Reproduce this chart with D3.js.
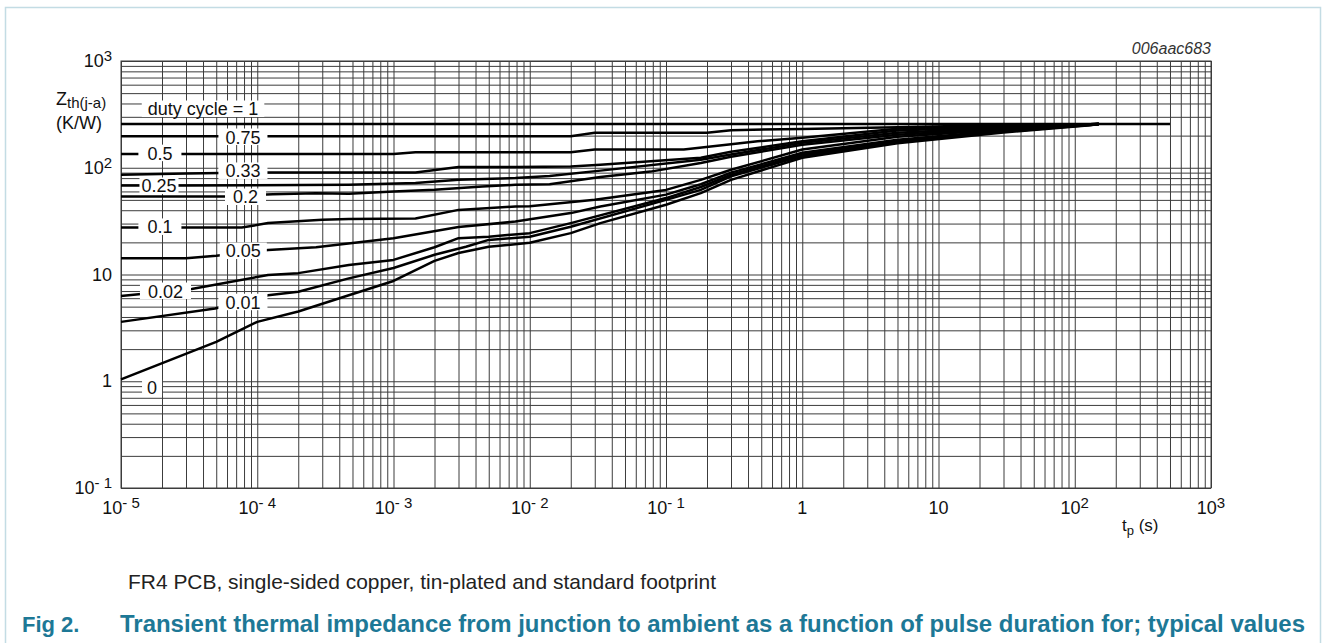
<!DOCTYPE html>
<html><head><meta charset="utf-8">
<script src="https://cdn.jsdelivr.net/npm/d3@7"></script>
<style>
html,body{margin:0;padding:0;background:#fff;}
svg{display:block;font-family:"Liberation Sans",Arial,Helvetica,sans-serif;}
</style>
</head><body>
<svg id="chart" width="1327" height="643"></svg>
<script>
// ---------- data ----------
const xTickValues = [1e-5, 1e-4, 1e-3, 1e-2, 1e-1, 1, 10, 100, 1000];
const xTickBase   = ["10", "10", "10", "10", "10", "1", "10", "10", "10"];
const xTickExp    = ["- 5", "- 4", "- 3", "- 2", "- 1", "", "", "2", "3"];
const yTickValues = [0.1, 1, 10, 100, 1000];
const yTickBase   = ["10", "1", "10", "10", "10"];
const yTickExp    = ["- 1", "", "", "2", "3"];

const dutyCycles = ["1", "0.75", "0.5", "0.33", "0.25", "0.2", "0.1", "0.05", "0.02", "0.01", "0"];

const t_d100 = [1e-5, 500];
const z_d100 = [257, 257];
const t_d075 = [1e-5, 0.02, 0.03, 0.2, 0.3, 1, 5, 30, 130, 150];
const z_d075 = [197, 197, 213, 213, 225, 231, 240, 252, 256, 257];
const t_d050 = [1e-5, 1e-3, 1.45e-3, 0.02, 0.03, 0.135, 0.3, 0.47, 1, 5, 30, 130, 150];
const z_d050 = [134.5, 134.5, 140, 140, 148, 148, 166, 177, 191, 232, 248, 256, 257];
const t_d033 = [1e-5, 3e-5, 1.2e-4, 1.45e-3, 3e-3, 7.85e-3, 0.02, 0.033, 0.18, 0.3, 1, 5, 30, 130, 150];
const z_d033 = [86, 88.5, 90.4, 90.4, 101.6, 101.6, 103, 106.7, 124, 141, 177, 223, 243, 255, 257];
const t_d025 = [1e-5, 2.8e-5, 4.7e-4, 1.45e-3, 3e-3, 7.85e-3, 0.014, 0.033, 0.18, 0.3, 1, 5, 30, 130, 150];
const z_d025 = [68.2, 68.2, 69.2, 71.8, 77.1, 80, 83.5, 94, 119, 133, 171, 213, 238, 255, 257];
const t_d020 = [1e-5, 6e-5, 1.3e-4, 2.7e-4, 4.7e-4, 1e-3, 2e-3, 4.5e-3, 7.85e-3, 0.014, 0.033, 0.077, 0.18, 0.3, 1, 5, 30, 130, 150];
const z_d020 = [53.8, 53.8, 56.6, 57.8, 57, 59.8, 62.1, 66.7, 69.2, 70, 82, 92, 111, 127, 164, 204, 233, 254, 257];
const t_d010 = [1e-5, 7.7e-5, 1.2e-4, 3e-4, 4.7e-4, 1.45e-3, 3e-3, 7.85e-3, 0.01, 0.03, 0.1, 0.18, 0.3, 1, 5, 30, 130, 150];
const z_d010 = [27.5, 27.5, 30.3, 32.5, 33.1, 33.5, 40.3, 43.3, 43.5, 50.1, 62, 77, 95.7, 148, 195, 228, 255, 257];
const t_d005 = [1e-5, 3e-5, 5e-5, 1.2e-4, 2.7e-4, 1e-3, 3e-3, 7.85e-3, 0.02, 0.033, 0.1, 0.18, 0.3, 1, 5, 30, 130, 150];
const z_d005 = [14.2, 14.2, 15.0, 17.0, 18.0, 21.9, 27.8, 31.3, 37.6, 43.3, 56, 70, 90, 138, 183, 223, 254, 257];
const t_d002 = [1e-5, 3.3e-5, 1.2e-4, 2e-4, 4.7e-4, 1e-3, 2e-3, 3e-3, 5e-3, 0.01, 0.02, 0.1, 0.18, 0.3, 1, 5, 30, 130, 150];
const z_d002 = [6.3, 7.3, 9.9, 10.3, 12.3, 13.7, 18, 21.9, 22.6, 24.4, 30.3, 52, 66, 86, 133, 177, 220, 253, 257];
const t_d001 = [1e-5, 4.9e-5, 1.2e-4, 2e-4, 4.7e-4, 1e-3, 2e-3, 3.4e-3, 5e-3, 0.01, 0.02, 0.1, 0.18, 0.3, 1, 5, 30, 130, 150];
const z_d001 = [3.6, 4.8, 6.4, 6.9, 9.2, 11.5, 15.3, 18.2, 21.1, 22.6, 28, 50, 62, 83, 129, 174, 218, 252, 257];
const t_d000 = [1e-5, 5e-5, 1e-4, 2e-4, 4.7e-4, 1e-3, 2e-3, 3e-3, 5e-3, 0.01, 0.02, 0.033, 0.1, 0.18, 0.3, 1, 5, 30, 130, 150];
const z_d000 = [1.04, 2.34, 3.6, 4.5, 6.4, 8.7, 13.4, 15.9, 18.2, 19.8, 24.4, 30.3, 45, 57.8, 77, 124, 170, 214, 250, 257];

// curve labels (text, anchor pulse time, anchor impedance)
const labelText = ["duty cycle = 1", "0.75", "0.5", "0.33", "0.25", "0.2", "0.1", "0.05", "0.02", "0.01", "0"];
const labelT    = [4.0e-5, 7.85e-5, 1.93e-5, 7.85e-5, 1.9e-5, 8.2e-5, 1.93e-5, 7.9e-5, 2.12e-5, 7.85e-5, 1.69e-5];
const labelZ    = [355, 194, 137, 93.3, 67.5, 53.2, 27.9, 16.6, 7.0, 5.5, 0.865];
const labelPad  = [6, 7, 9, 7, 2, 8, 9, 6, 8, 7, 5];

// ---------- chart ----------
const svg = d3.select("#chart");
const X0 = 121, X1 = 1211, Y0 = 61, Y1 = 488;
const x = d3.scaleLog().domain([1e-5, 1e3]).range([X0, X1]);
const y = d3.scaleLog().domain([0.1, 1e3]).range([Y1, Y0]);

// figure frame
svg.append("rect").attr("x", 5.5).attr("y", 7.5).attr("width", 1315).attr("height", 700)
  .attr("fill", "none").attr("stroke", "#c3dce4").attr("stroke-width", 1.5);

// grid values
const xGrid = [], yGrid = [];
for (let e = -5; e < 3; e++) for (let m = 1; m <= 9; m++) xGrid.push(m * Math.pow(10, e));
xGrid.push(1000);
for (let e = -1; e < 3; e++) for (let m = 1; m <= 9; m++) yGrid.push(m * Math.pow(10, e));
yGrid.push(1000);

const gridCol = "#3c3c3c";
const gx = svg.append("g").attr("transform", `translate(0,${Y1})`)
  .call(d3.axisBottom(x).tickValues(xGrid).tickSize(-(Y1 - Y0)).tickFormat(""));
const gy = svg.append("g").attr("transform", `translate(${X0},0)`)
  .call(d3.axisLeft(y).tickValues(yGrid).tickSize(-(X1 - X0)).tickFormat(""));
[gx, gy].forEach(g => {
  g.select(".domain").remove();
  g.selectAll(".tick line").attr("stroke", gridCol).attr("stroke-width", 1);
});
svg.append("rect").attr("x", X0).attr("y", Y0).attr("width", X1 - X0).attr("height", Y1 - Y0)
  .attr("fill", "none").attr("stroke", gridCol).attr("stroke-width", 1);

// curves
const curveT = [t_d100, t_d075, t_d050, t_d033, t_d025, t_d020, t_d010, t_d005, t_d002, t_d001, t_d000];
const curveZ = [z_d100, z_d075, z_d050, z_d033, z_d025, z_d020, z_d010, z_d005, z_d002, z_d001, z_d000];
const curves = dutyCycles.map((d, i) => ({ name: d, pts: curveT[i].map((t, j) => [t, curveZ[i][j]]) }));
const line = d3.line().x(d => x(d[0])).y(d => y(d[1]));
svg.append("g").selectAll("path").data(curves).join("path")
  .attr("d", d => line(d.pts)).attr("fill", "none").attr("stroke", "#000")
  .attr("stroke-width", 2.5).attr("stroke-linejoin", "round");

// labels with white boxes
const lg = svg.append("g");
labelText.forEach((txt, i) => {
  const g = lg.append("g");
  const rect = g.append("rect").attr("fill", "#fff");
  const t = g.append("text").attr("x", x(labelT[i])).attr("y", y(labelZ[i])).attr("dy", "0.36em")
    .attr("text-anchor", "middle").attr("font-size", 18).attr("fill", "#111").text(txt);
  const bb = t.node().getBBox();
  const cy = y(labelZ[i]);
  rect.attr("x", bb.x - labelPad[i]).attr("width", bb.width + 2 * labelPad[i])
    .attr("y", cy - 8.5).attr("height", 16.5);
});

// tick labels
const tl = svg.append("g").attr("font-size", 18).attr("fill", "#111");
xTickValues.forEach((v, i) => {
  const t = tl.append("text").attr("x", x(v)).attr("y", 514).attr("text-anchor", "middle");
  t.append("tspan").text(xTickBase[i]);
  if (xTickExp[i]) t.append("tspan").attr("dy", -6).attr("font-size", 15).text(xTickExp[i]);
});
yTickValues.forEach((v, i) => {
  const t = tl.append("text").attr("x", 112).attr("y", y(v) + 6).attr("text-anchor", "end");
  t.append("tspan").text(yTickBase[i]);
  if (yTickExp[i]) t.append("tspan").attr("dy", -6).attr("font-size", 15).text(yTickExp[i]);
});

// axis titles
const yt = svg.append("text").attr("x", 56).attr("y", 105).attr("font-size", 18).attr("fill", "#111");
yt.append("tspan").text("Z");
yt.append("tspan").attr("dy", 3).attr("font-size", 15).text("th(j-a)");
svg.append("text").attr("x", 56).attr("y", 129).attr("font-size", 18).attr("fill", "#111").text("(K/W)");

const xt = svg.append("text").attr("x", 1122).attr("y", 531).attr("font-size", 17).attr("fill", "#111");
xt.append("tspan").text("t");
xt.append("tspan").attr("dy", 4).attr("font-size", 13).text("p");
xt.append("tspan").attr("dy", -4).text(" (s)");

svg.append("text").attr("x", 1211).attr("y", 54).attr("text-anchor", "end")
  .attr("font-size", 16).attr("font-style", "italic").attr("fill", "#333").text("006aac683");

// captions
svg.append("text").attr("x", 128).attr("y", 589).attr("font-size", 21).attr("fill", "#222")
  .attr("textLength", 588).attr("lengthAdjust", "spacingAndGlyphs")
  .text("FR4 PCB, single-sided copper, tin-plated and standard footprint");
const teal = "#1d7896";
svg.append("text").attr("x", 22).attr("y", 632).attr("font-size", 22).attr("font-weight", "bold")
  .attr("fill", teal).text("Fig 2.");
svg.append("text").attr("x", 120).attr("y", 632).attr("font-size", 23).attr("font-weight", "bold")
  .attr("fill", teal).attr("textLength", 1185).attr("lengthAdjust", "spacingAndGlyphs")
  .text("Transient thermal impedance from junction to ambient as a function of pulse duration for; typical values");
</script>
</body></html>
